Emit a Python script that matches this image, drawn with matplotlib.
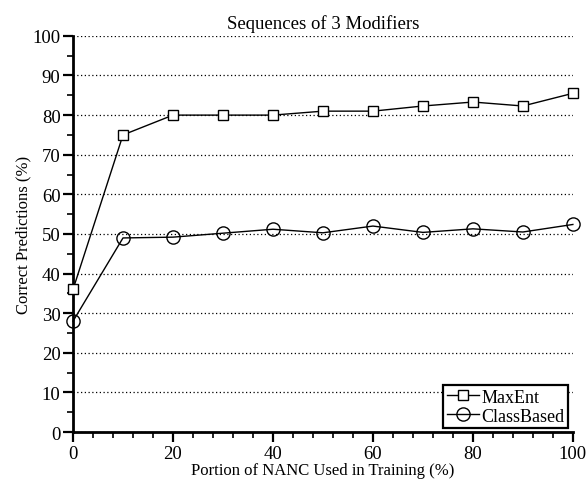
import matplotlib.pyplot as plt
from matplotlib.ticker import MultipleLocator

# Portion of NANC used in training (%)
portion = [0, 10, 20, 30, 40, 50, 60, 70, 80, 90, 100]
maxent = [36, 75, 80, 80, 80, 81, 81, 82.3, 83.3, 82.3, 85.5]
classbased = [28, 49, 49.2, 50.2, 51.2, 50.3, 52, 50.4, 51.3, 50.5, 52.4]

plt.rcParams["font.family"] = ["Liberation Serif", "DejaVu Serif"]

fig = plt.figure(figsize=(5.86, 4.85), dpi=100)
ax = fig.add_axes([0.1246, 0.107, 0.853, 0.817])

ax.plot(portion, maxent, color="black", lw=1.0, marker="s", ms=7,
        mfc="white", mec="black", mew=1.0, label="MaxEnt", clip_on=False, zorder=3)
ax.plot(portion, classbased, color="black", lw=1.0, marker="o", ms=9.5,
        mfc="none", mec="black", mew=1.0, label="ClassBased", clip_on=False, zorder=3)

ax.set_xlim(0, 100)
ax.set_ylim(0, 100)
ax.xaxis.set_major_locator(MultipleLocator(20))
ax.xaxis.set_minor_locator(MultipleLocator(4))
ax.yaxis.set_major_locator(MultipleLocator(10))
ax.yaxis.set_minor_locator(MultipleLocator(5))
ax.tick_params(which="major", direction="out", length=7, width=1.6, labelsize=13.5, pad=2)
ax.tick_params(which="minor", direction="out", length=4, width=1.2)

for side in ("top", "right"):
    ax.spines[side].set_visible(False)
for side in ("left", "bottom"):
    ax.spines[side].set_linewidth(2)

ax.yaxis.grid(True, which="major", linestyle=(0, (1, 2)), color="black", lw=0.9)
ax.set_axisbelow(True)

ax.set_title("Sequences of 3 Modifiers", fontsize=13.5, pad=6)
ax.set_xlabel("Portion of NANC Used in Training (%)", fontsize=12, labelpad=0)
ax.set_ylabel("Correct Predictions (%)", fontsize=12, labelpad=1)

leg = ax.legend(loc="lower right", bbox_to_anchor=(0.99, 0.01), fontsize=13,
                frameon=True, fancybox=False, edgecolor="black", framealpha=1,
                borderpad=0.2, handlelength=1.8, handletextpad=0.1,
                labelspacing=0.1, borderaxespad=0)
leg.get_frame().set_linewidth(1.6)

fig.savefig("out.png", dpi=100)
